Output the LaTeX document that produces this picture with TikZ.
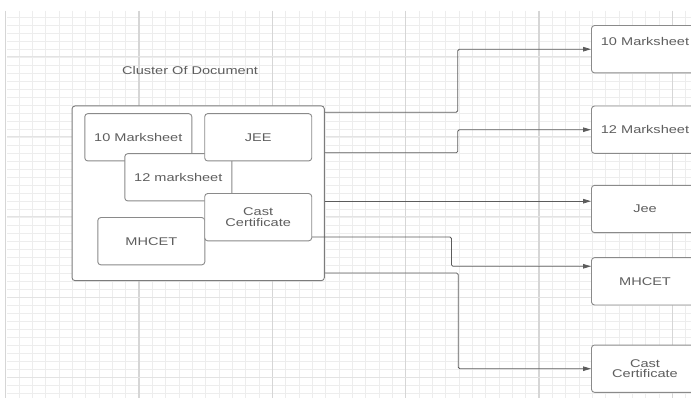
\documentclass[tikz,border=0pt]{standalone}
\usepackage{fontspec}
\setmainfont{Liberation Sans}[FakeStretch=1.3]
\usetikzlibrary{arrows.meta}
\definecolor{gridminor}{HTML}{EDEDED}
\definecolor{gridmajor}{HTML}{D6D6D6}
\definecolor{gridhmajor}{HTML}{E3E3E3}
\definecolor{boxline}{HTML}{8A8A8A}
\definecolor{txt}{HTML}{5E5E5E}
\definecolor{conncol}{HTML}{5C5C5C}
\tikzset{
  docbox/.style={draw=boxline, line width=0.9pt, rounded corners=3pt, fill=white,
    minimum width=107pt, minimum height=47.3pt, inner sep=0pt, text=txt,
    align=center, font=\fontsize{11.2}{10.3}\selectfont},
  outerbox/.style={draw=boxline!90!black, line width=0.9pt, rounded corners=3pt, fill=white,
    minimum width=252.3pt, minimum height=174.7pt, inner sep=0pt},
  conn/.style={draw=conncol, line width=0.8pt, rounded corners=1.5pt,
    -{Triangle[length=8pt,width=4.5pt]}},
  titletext/.style={text=txt, font=\fontsize{11.2}{13}\selectfont, inner sep=0pt}
}
\begin{document}
\begin{tikzpicture}[x=1pt,y=-1pt]
\useasboundingbox (0,0) rectangle (691,398);
\clip (0,0) rectangle (691,398);
\fill[white] (0,0) rectangle (691,398);
% grid
\foreach \k in {0,...,51} {
  \pgfmathsetmacro\xx{5.7+13.333*\k}
  \draw[gridminor, line width=0.9pt] (\xx,11) -- (\xx,398);
}
\foreach \k in {0,...,47} {
  \pgfmathsetmacro\yy{17+8*\k}
  \draw[gridminor, line width=0.9pt] (7,\yy) -- (691,\yy);
}
\foreach \k in {0,...,5} {
  \pgfmathsetmacro\xx{5.7+133.33*\k}
  \draw[gridmajor, line width=1.1pt] (\xx,11) -- (\xx,398);
}
\foreach \k in {0,...,4} {
  \pgfmathsetmacro\yy{57+80*\k}
  \draw[gridhmajor, line width=1pt] (7,\yy) -- (691,\yy);
}
% title
\node[titletext] (title) at (190,70.7) {Cluster Of Document};
% cluster
\node[outerbox] (cluster) at (198.2,193.3) {};
\node[docbox] (in10) at (138.3,137.3) {10 Marksheet};
\node[docbox] (in12) at (178.3,177.3) {12 marksheet};
\node[docbox] (jee) at (258.2,137.3) {JEE};
\node[docbox] (mhcet) at (151.3,241.2) {MHCET};
\node[docbox] (cast) at (258.2,217.2) {Cast\\Certificate};
% right column
\node[docbox, text height=8pt, text depth=15pt] (r10) at (645,49.2) {10 Marksheet};
\node[docbox] (r12) at (645,129.7) {12 Marksheet};
\node[docbox] (rjee) at (645,209) {Jee};
\node[docbox] (rmh) at (645,281.3) {MHCET};
\node[docbox] (rcast) at (645,368.7) {Cast\\Certificate};
% connectors
\draw[conn] ([yshift=-6.7pt]cluster.north east) -- ++(133,0) |- (r10.west);
\draw[conn] ([yshift=-47.3pt]cluster.north east) -- ++(133,0) |- (r12.west);
\draw[conn] ([yshift=-95.7pt]cluster.north east) coordinate (s3) -- (s3 -| rjee.west);
\draw[conn] ([yshift=4.3pt]cast.south east) -- ++(139.3,0) -- ++(0,29.3) coordinate (m4) -- (m4 -| rmh.west);
\draw[conn] ([yshift=8pt]cluster.south east) -- ++(133.4,0) |- (rcast.west);
\end{tikzpicture}
\end{document}
